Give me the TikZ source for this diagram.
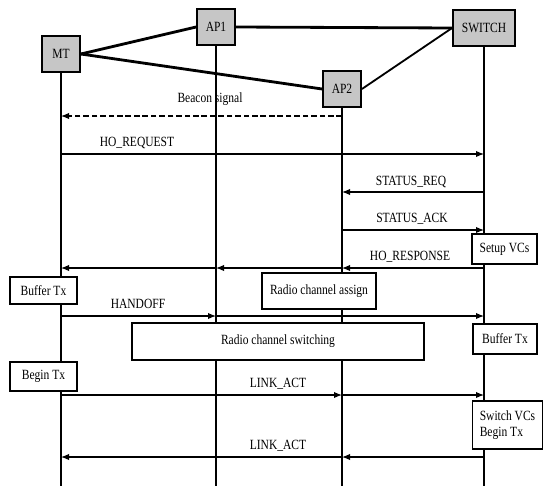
\documentclass[tikz,border=0pt]{standalone}
\usepackage{fontspec}
\setmainfont[FakeStretch=0.82]{Liberation Serif}
\usetikzlibrary{arrows.meta}

\tikzset{
  entity/.style={draw, line width=1.3pt, fill=gray!45, minimum width=0.95cm, minimum height=0.88cm, inner sep=1pt},
  actbox/.style={draw, line width=0.9pt, fill=white, inner sep=1pt},
  life/.style={line width=0.9pt},
  link/.style={line width=2pt},
  msg/.style={-{Latex[length=2mm,width=1.6mm]}, line width=0.9pt},
  beacon/.style={msg, dash pattern=on 4pt off 2pt}
}

\begin{document}
\begin{tikzpicture}[x=0.025cm, y=-0.025cm, font=\fontsize{10}{11}\selectfont]
\useasboundingbox (0,0) rectangle (543,486);

% network entities
\node[entity] (mt) at (61,54) {MT};
\node[entity] (ap1) at (216,27) {AP1};
\node[entity] (ap2) at (342,89) {AP2};
\node[entity, minimum width=1.55cm] (sw) at (484,28) {SWITCH};

\draw[link] (mt.east) -- (ap1.west);
\draw[link] (mt.east) -- (ap2.west);
\draw[link] (ap1.east) -- (sw.west);
\draw[line width=1.3pt] (ap2.east) -- (sw.west);

% lifelines
\coordinate (mtend) at (61,486);
\coordinate (ap1end) at (216,486);
\coordinate (ap2end) at (342,486);
\coordinate (swend) at (484,486);
\draw[life] (mt.south) -- (mtend);
\draw[life] (ap1.south) -- (ap1end);
\draw[life] (ap2.south) -- (ap2end);
\draw[life] (sw.south) -- (swend);

% message rows
\coordinate (beaconrow) at (0,116);
\coordinate (horeqrow) at (0,154);
\coordinate (streqrow) at (0,192);
\coordinate (stackrow) at (0,230);
\coordinate (horesprow) at (0,268);
\coordinate (handoffrow) at (0,316);
\coordinate (linkrow) at (0,395);
\coordinate (linkbackrow) at (0,457);

% actions
\node[actbox, minimum width=1.625cm, minimum height=0.75cm] (setup) at (504.5,249) {Setup VCs};
\node[actbox, minimum width=1.675cm, minimum height=0.675cm] (bufmt) at (43.5,290.5) {Buffer Tx};
\node[actbox, minimum width=2.85cm, minimum height=0.9cm] (assign) at (319,291) {Radio channel assign};
\node[actbox, minimum width=7.3cm, minimum height=0.925cm] (switching) at (278,341.5) {Radio channel switching};
\node[actbox, minimum width=1.6cm, minimum height=0.75cm] (bufsw) at (505,339) {Buffer Tx};
\node[actbox, minimum width=1.675cm, minimum height=0.725cm] (beginmt) at (43.5,376.5) {Begin Tx};
\node[actbox, minimum width=1.75cm, minimum height=1.2cm, align=left] (swvc) at (507.5,425) {Switch VCs\\Begin Tx};

% Beacon signal
\draw[beacon] (ap2 |- beaconrow) -- (mt |- beaconrow);
\node (beaconlbl) at (210,99) {Beacon signal};

% HO request / status
\draw[msg] (mt |- horeqrow) -- (sw |- horeqrow);
\node (horeqlbl) at (137,143) {HO\_REQUEST};
\draw[msg] (sw |- streqrow) -- (ap2 |- streqrow);
\node (streqlbl) at (411,182) {STATUS\_REQ};
\draw[msg] (ap2 |- stackrow) -- (sw |- stackrow);
\node (stacklbl) at (412,219) {STATUS\_ACK};

% HO response
\draw[msg] (sw |- horesprow) -- (ap2 |- horesprow);
\draw[msg] (ap2 |- horesprow) -- (ap1 |- horesprow);
\draw[msg] (ap1 |- horesprow) -- (mt |- horesprow);
\node (horesplbl) at (410,257) {HO\_RESPONSE};

% Handoff
\draw[msg] (mt |- handoffrow) -- (ap1 |- handoffrow);
\draw[msg] (ap1 |- handoffrow) -- (sw |- handoffrow);
\node (handofflbl) at (138,304) {HANDOFF};

% Link activation
\draw[msg] (mt |- linkrow) -- (ap2 |- linkrow);
\draw[msg] (ap2 |- linkrow) -- (sw |- linkrow);
\node (linklbl) at (278,384) {LINK\_ACT};
\draw[msg] (sw |- linkbackrow) -- (ap2 |- linkbackrow);
\draw[msg] (ap2 |- linkbackrow) -- (mt |- linkbackrow);
\node (linkbacklbl) at (278,446) {LINK\_ACT};
\end{tikzpicture}
\end{document}
